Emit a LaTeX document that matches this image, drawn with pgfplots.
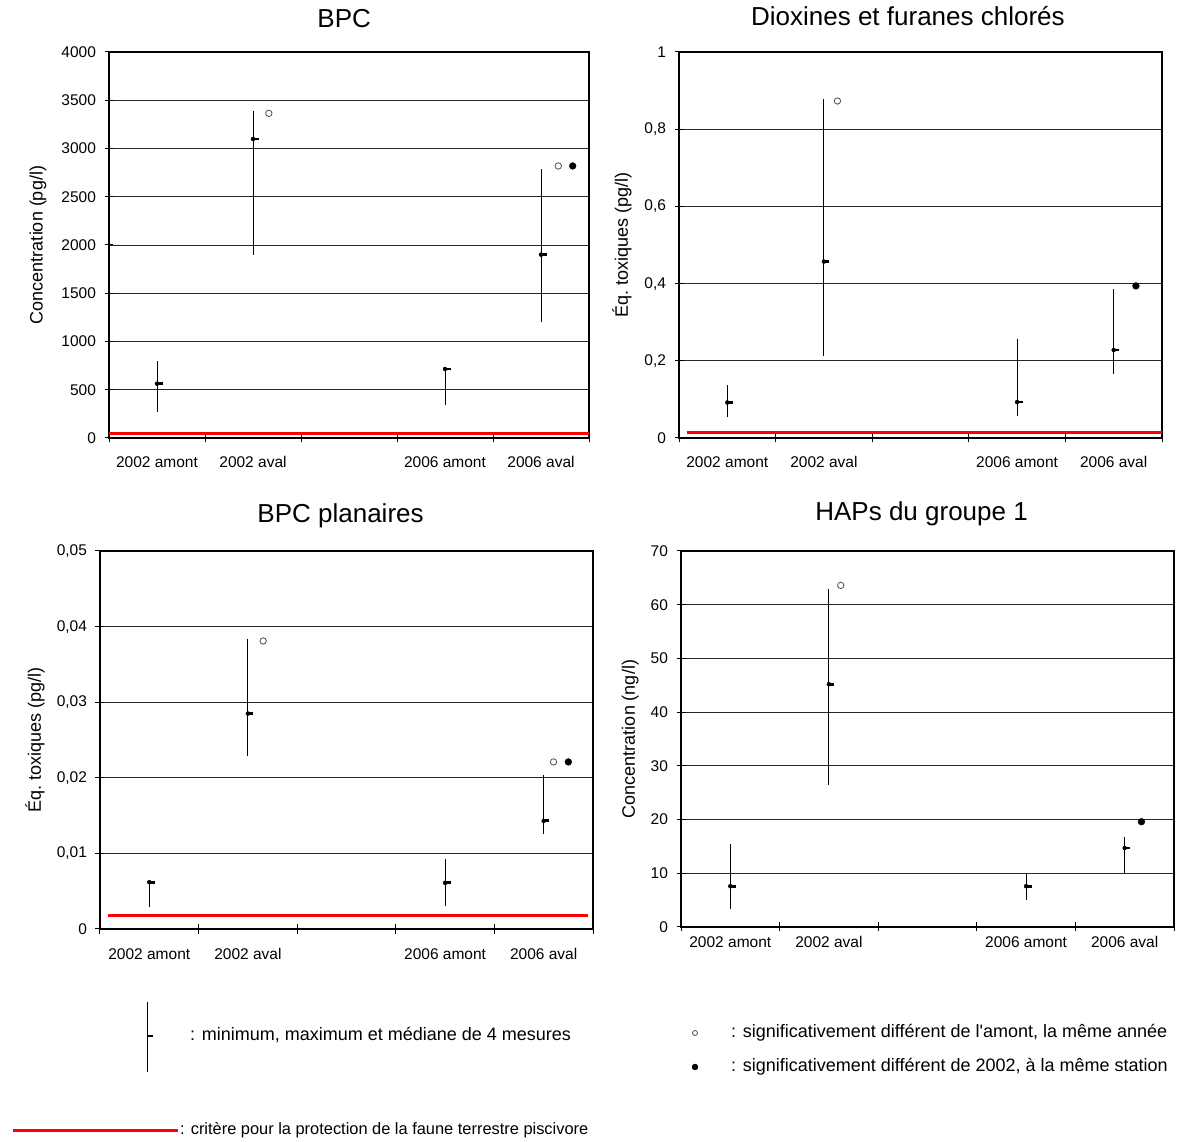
\documentclass[border=0pt]{standalone}
\usepackage{pgfplots}
\pgfplotsset{compat=1.18}
\usepackage{pgfplotstable}
\usepackage{fontspec}
\setmainfont{Liberation Sans}

\newcommand\titlesize{\fontsize{26}{31}\selectfont}
\newcommand\labsize{\fontsize{18}{22}\selectfont}
\newcommand\ticksize{\fontsize{15.5}{18}\selectfont}
\newcommand\legsize{\fontsize{18}{22}\selectfont}
\newcommand\legsmall{\fontsize{16.4}{20}\selectfont}

% min / max / median of 4 measurements, x = category position
\pgfplotstableread{
x    lo     hi     med
0.5  269    801    563
1.5  1900   3392   3098
3.5  338    725    715
4.5  1199   2791   1900
}\bpc
\pgfplotstableread{
x    lo     hi     med
0.5  0.054  0.136  0.092
1.5  0.212  0.879  0.457
3.5  0.056  0.257  0.093
4.5  0.166  0.386  0.228
}\diox
\pgfplotstableread{
x    lo      hi      med
0.5  0.0029  0.0063  0.0062
1.5  0.0229  0.0383  0.0285
3.5  0.0030  0.0092  0.0061
4.5  0.0126  0.0204  0.0143
}\plan
\pgfplotstableread{
x    lo     hi     med
0.5  3.4    15.4   7.6
1.5  26.4   62.9   45.2
3.5  5.0    9.8    7.6
4.5  9.8    16.8   14.7
}\haps

\pgfplotsset{
  panel/.style={
    scale only axis, xmin=0, xmax=5, ymin=0,
    xtick={0.5,1.5,3.5,4.5},
    xticklabels={2002 amont,2002 aval,2006 amont,2006 aval},
    minor xtick={0,1,2,3,4,5},
    major x tick style={draw=none},
    tick pos=left, tick align=center,
    major tick length=9pt, minor tick length=9pt,
    tick style={black, line width=1pt},
    ymajorgrids, grid style={black!85, line width=0.9pt},
    axis line style={black, line width=1.3pt},
    scaled ticks=false,
    tick label style={font=\ticksize},
    xticklabel style={anchor=base, yshift=-25.5pt},
    yticklabel style={xshift=-5pt},
    title style={font=\titlesize, anchor=base, inner sep=0pt},
    ylabel style={font=\labsize, anchor=center, inner sep=0pt},
    /pgf/number format/use comma,
    /pgf/number format/1000 sep={},
    /pgf/number format/assume math mode=true,
  },
  range/.style={only marks, mark=none,
    error bars/.cd, y dir=both, y explicit, error mark=none,
    error bar style={black, line width=1pt}},
  median/.style={only marks, mark=-, mark size=3pt,
    mark options={black, line width=2.8pt, xshift=2.5pt}},
  diffamont/.style={only marks, mark=o, mark size=3.2pt,
    mark options={gray!60!black, line width=0.8pt}},
  diff2002/.style={only marks, mark=*, mark size=3.4pt, black},
  critere/.style={red, line width=3pt},
}

\begin{document}
\begin{tikzpicture}
\useasboundingbox (0,0) rectangle (1178pt,1141pt);

% BPC
\begin{axis}[panel, at={(109pt,703pt)}, anchor=south west,
  width=480pt, height=386pt,
  ymax=4000, ytick={0,500,...,4000},
  title={BPC}, title style={at={(axis description cs:0.490,1)}, yshift=18pt},
  ylabel={Concentration (pg/l)},
  ylabel style={at={(axis description cs:-0.148,0.5)}}]
\addplot[critere] coordinates {(0,50)(5,50)};
\addplot[range] table[x=x, y=med,
  y error plus expr=\thisrow{hi}-\thisrow{med},
  y error minus expr=\thisrow{med}-\thisrow{lo}] {\bpc};
\addplot[median] table[x=x, y=med] {\bpc};
\addplot[diffamont] coordinates {(1.665,3364)(4.68,2819)};
\addplot[diff2002] coordinates {(4.83,2819)};
\end{axis}

% Dioxines et furanes
\begin{axis}[panel, at={(679pt,703pt)}, anchor=south west,
  width=483pt, height=386pt,
  ymax=1, ytick={0,0.2,0.4,0.6,0.8,1},
  title={Dioxines et furanes chlorés},
  title style={at={(axis description cs:0.474,1)}, yshift=20pt},
  ylabel={Éq.\ toxiques (pg/l)},
  ylabel style={at={(axis description cs:-0.118,0.5)}}]
\addplot[critere] coordinates {(0.08,0.013)(5,0.013)};
\addplot[range] table[x=x, y=med,
  y error plus expr=\thisrow{hi}-\thisrow{med},
  y error minus expr=\thisrow{med}-\thisrow{lo}] {\diox};
\addplot[median] table[x=x, y=med] {\diox};
\addplot[diffamont] coordinates {(1.64,0.873)};
\addplot[diff2002] coordinates {(4.73,0.394)};
\end{axis}

% BPC planaires
\begin{axis}[panel, at={(100pt,212pt)}, anchor=south west,
  width=493pt, height=378pt,
  ymax=0.05, ytick={0,0.01,0.02,0.03,0.04,0.05},
  yticklabel style={/pgf/number format/fixed, /pgf/number format/precision=2},
  title={BPC planaires},
  title style={at={(axis description cs:0.488,1)}, yshift=22pt},
  ylabel={Éq.\ toxiques (pg/l)},
  ylabel style={at={(axis description cs:-0.132,0.5)}}]
\addplot[critere] coordinates {(0.08,0.0018)(4.95,0.0018)};
\addplot[range] table[x=x, y=med,
  y error plus expr=\thisrow{hi}-\thisrow{med},
  y error minus expr=\thisrow{med}-\thisrow{lo}] {\plan};
\addplot[median] table[x=x, y=med] {\plan};
\addplot[diffamont] coordinates {(1.655,0.0381)(4.60,0.0221)};
\addplot[diff2002] coordinates {(4.75,0.0221)};
\end{axis}

% HAPs du groupe 1
\begin{axis}[panel, at={(681pt,214pt)}, anchor=south west,
  width=493pt, height=376pt,
  ymax=70, ytick={0,10,...,70},
  xticklabel style={yshift=9pt},
  title={HAPs du groupe 1},
  title style={at={(axis description cs:0.488,1)}, yshift=24pt},
  ylabel={Concentration (ng/l)},
  ylabel style={at={(axis description cs:-0.103,0.5)}}]
\addplot[range] table[x=x, y=med,
  y error plus expr=\thisrow{hi}-\thisrow{med},
  y error minus expr=\thisrow{med}-\thisrow{lo}] {\haps};
\addplot[median] table[x=x, y=med] {\haps};
\addplot[diffamont] coordinates {(1.62,63.6)};
\addplot[diff2002] coordinates {(4.67,19.6)};
\end{axis}

% legend, laid out on a hidden axis in picture units
\begin{axis}[at={(0pt,0pt)}, anchor=south west, scale only axis,
  width=1178pt, height=1141pt, xmin=0, xmax=1178, ymin=0, ymax=1141,
  hide axis, clip=false]
\addplot[black, line width=1pt] coordinates {(147,69)(147,139)};
\addplot[median] coordinates {(147,105)};
\addplot[diffamont, mark size=2.5pt] coordinates {(695,108)};
\addplot[diff2002, mark size=3pt] coordinates {(695,74)};
\addplot[critere] coordinates {(13,11)(178,11)};
\node[anchor=west, inner sep=0pt, font=\legsize] at (axis cs:190,106)
  {: minimum, maximum et médiane de 4 mesures};
\node[anchor=west, inner sep=0pt, font=\legsize] at (axis cs:731,108)
  {: significativement différent de l\textquotesingle amont, la même année};
\node[anchor=west, inner sep=0pt, font=\legsize] at (axis cs:731,74)
  {: significativement différent de 2002, à la même station};
\node[anchor=west, inner sep=0pt, font=\legsmall] at (axis cs:180,11)
  {: critère pour la protection de la faune terrestre piscivore};
\end{axis}
\end{tikzpicture}
\end{document}
